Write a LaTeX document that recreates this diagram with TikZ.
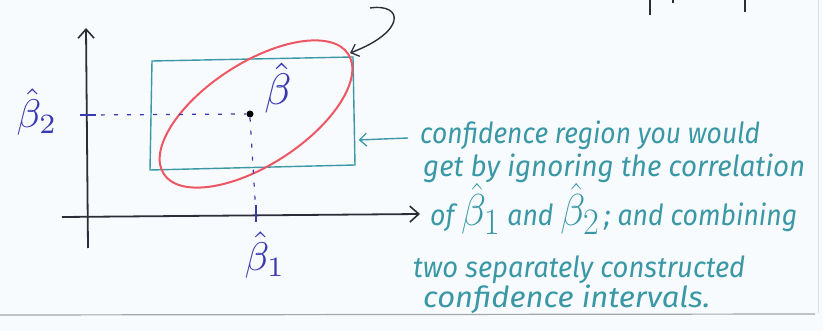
\documentclass[tikz,border=0pt]{standalone}
\usepackage{fontspec}
\usepackage{graphicx}
\usetikzlibrary{arrows.meta}
\newfontfamily\hand{Fira Sans}
\definecolor{penteal}{RGB}{58,152,166}
\definecolor{penred}{RGB}{238,86,100}
\definecolor{penblue}{RGB}{58,58,176}
\definecolor{pendark}{RGB}{45,45,55}
\definecolor{paper}{RGB}{248,251,253}
\tikzset{
  axis/.style={draw=pendark, line width=1.8pt, -{Straight Barb[length=9pt,width=16pt,line width=1.6pt]}},
  tealbox/.style={draw=penteal, line width=1.4pt},
  ring/.style={draw=penred, line width=2pt},
  guide/.style={draw=penblue, line width=1.2pt, dash pattern=on 4pt off 9pt},
  tick/.style={draw=penblue, line width=1.6pt},
  lab/.style={text=penblue, inner sep=0pt},
  note/.style={text=penteal, inner sep=0pt, anchor=base west, font=\hand\itshape\fontsize{29}{32}\selectfont},
  pointer/.style={line width=1.4pt, -{Straight Barb[length=7pt,width=13pt,line width=1.3pt]}},
  frag/.style={draw=pendark, line width=1.8pt},
}
\newcommand{\hw}[2]{\resizebox{#1}{\height}{#2}}
\begin{document}
\begin{tikzpicture}[x=1pt,y=-1pt]
\fill[paper] (0,0) rectangle (823,331);
\useasboundingbox (0,0) rectangle (823,331);
% page rule and edge
\draw[gray!70, line width=1.2pt] (0,315) -- (815,314);
\draw[gray!25, line width=0.8pt] (818,0) -- (818,313);
% fragments at top
\draw[frag] (650,0) -- (650,15);
\draw[frag] (745,0) -- (745,12);
\draw[frag] (673,0) -- (673,3);
% axes
\coordinate (yb) at (88,248);
\coordinate (yt) at (86,28);
\coordinate (xl) at (62,217);
\coordinate (xr) at (420,214);
\draw[axis] (yb) -- (yt);
\draw[axis] (xl) -- (xr);
% rectangle
\coordinate (r1) at (152,61);
\coordinate (r2) at (353,57);
\coordinate (r3) at (355,165);
\coordinate (r4) at (150,170);
\draw[tealbox] (r1) -- (r2) -- (r3) -- (r4) -- cycle;
% ellipse
\coordinate (ec) at (256,114);
\draw[ring] (ec) ellipse [x radius=110pt, y radius=51pt, rotate=33];
% point
\node[circle, fill=black, inner sep=0pt, minimum size=7pt] (pt) at (250,114) {};
% guides
\coordinate (ytk) at (88,115);
\coordinate (xtk) at (256,215);
\draw[guide] (ytk) -- (pt.west);
\draw[guide] (pt.south) -- (xtk);
\draw[tick] (80,115) -- (96,115);
\draw[tick] (256,205) -- (256,222);
% labels
\node[lab] (bhat) at (278,88) {\scalebox{4.4}{$\hat{\beta}$}};
\node[lab] (b2) at (37,112) {\scalebox{4}{$\hat{\beta}_2$}};
\node[lab] (b1) at (265,255) {\scalebox{4}{$\hat{\beta}_1$}};
% curved pointer to ellipse
\coordinate (cs) at (370,8);
\coordinate (ce) at (350,53);
\draw[pointer, draw=pendark] (cs) .. controls (404,3) and (406,32) .. (ce);
% teal pointer to box
\coordinate (ts) at (408,138);
\node[inner sep=0pt] (tb) at (358,140) {};
\draw[pointer, draw=penteal] (ts) -- (tb);
% note text
\node[note] (n1) at (420,144) {\hw{340pt}{confidence region you would}};
\node[note] (n2) at (423,177) {\hw{382pt}{get by ignoring the correlation}};
\node[note] (n3) at (430,226) {\hw{367pt}{of \scalebox{1.8}{$\hat{\beta}_1$} and \scalebox{1.8}{$\hat{\beta}_2$}\,; and combining}};
\node[note] (n4) at (413,278) {\hw{332pt}{two separately constructed}};
\node[note] (n5) at (423,308) {\hw{287pt}{confidence intervals.}};
\end{tikzpicture}
\end{document}
